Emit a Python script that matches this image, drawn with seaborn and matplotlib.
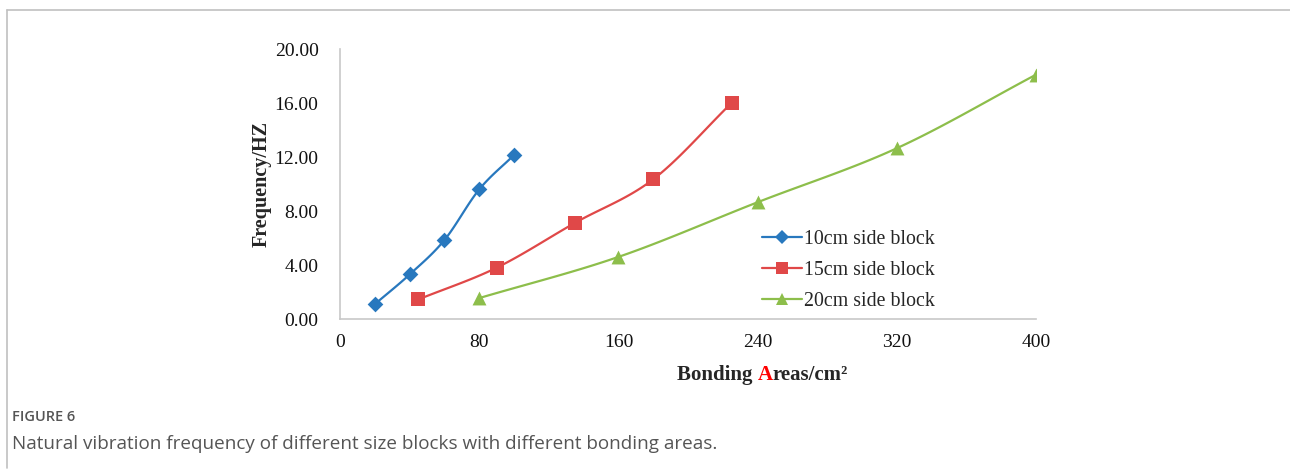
import matplotlib
matplotlib.use("Agg")
import matplotlib.pyplot as plt
from matplotlib.lines import Line2D
import numpy as np
import pandas as pd
import seaborn as sns

# data
area_10 = [20, 40, 60, 80, 100]
freq_10 = [1.10, 3.30, 5.85, 9.60, 12.15]
area_15 = [45, 90, 135, 180, 225]
freq_15 = [1.45, 3.80, 7.12, 10.35, 16.00]
area_20 = [80, 160, 240, 320, 400]
freq_20 = [1.55, 4.60, 8.65, 12.65, 18.10]

series_names = ["10cm side block", "15cm side block", "20cm side block"]
x_ticks = [0, 80, 160, 240, 320, 400]
y_ticks = [0, 4, 8, 12, 16, 20]

colors = ["#2878BE", "#E04848", "#8DBE4B"]
markers = ["D", "s", "^"]
marker_sizes = [8, 10, 10]

SERIF = "Liberation Serif"
SANS = ["Open Sans", "DejaVu Sans"]


def smooth(xs, ys, n=30):
    """Catmull-Rom curve through the points (like Excel's smoothed line)."""
    x = np.asarray(xs, float)
    y = np.asarray(ys, float)
    px = np.concatenate([[2 * x[0] - x[1]], x, [2 * x[-1] - x[-2]]])
    py = np.concatenate([[2 * y[0] - y[1]], y, [2 * y[-1] - y[-2]]])
    out_x, out_y = [], []
    t = np.linspace(0, 1, n)
    for i in range(1, len(px) - 2):
        for p, out in ((px, out_x), (py, out_y)):
            p0, p1, p2, p3 = p[i - 1], p[i], p[i + 1], p[i + 2]
            out.extend(0.5 * ((2 * p1) + (-p0 + p2) * t
                              + (2 * p0 - 5 * p1 + 4 * p2 - p3) * t ** 2
                              + (-p0 + 3 * p1 - 3 * p2 + p3) * t ** 3))
    return np.array(out_x), np.array(out_y)


sns.set_theme(style="white")
plt.rcParams["font.family"] = [SERIF, "DejaVu Serif"]

fig = plt.figure(figsize=(12.9, 4.75), dpi=100)
ax = fig.add_axes([0.2636, 0.3284, 0.5395, 0.5684])

handles = []
for xs, ys, name, c, m, ms in zip(
    [area_10, area_15, area_20], [freq_10, freq_15, freq_20],
    series_names, colors, markers, marker_sizes,
):
    sx, sy = smooth(xs, ys)
    ax.plot(sx, sy, color=c, lw=1.6, zorder=2)
    df = pd.DataFrame({"area": xs, "freq": ys})
    sns.scatterplot(data=df, x="area", y="freq", marker=m, s=ms ** 2,
                    color=c, edgecolor=c, linewidth=0, ax=ax, zorder=3)
    handles.append(Line2D([], [], color=c, lw=1.6, marker=m, markersize=ms * 0.9,
                          markeredgewidth=0, label=name))

ax.set_xlim(0, 400)
ax.set_ylim(0, 20)
ax.set_xticks(x_ticks)
ax.set_yticks(y_ticks)
ax.set_xticklabels([str(v) for v in x_ticks], fontfamily=SERIF, fontsize=14)
ax.set_yticklabels([f"{v:.2f}" for v in y_ticks], fontfamily=SERIF, fontsize=14)
ax.tick_params(axis="both", length=0, colors="#111111")
ax.tick_params(axis="y", pad=15.5)
ax.tick_params(axis="x", pad=11)
ax.set_xlabel("")
ax.set_ylabel("Frequency/HZ", fontsize=14.5, fontweight="bold", labelpad=2,
              fontfamily=SERIF)

for side in ["top", "right"]:
    ax.spines[side].set_visible(False)
for side in ["left", "bottom"]:
    ax.spines[side].set_color("#c8c8c8")
    ax.spines[side].set_linewidth(1.2)

leg = ax.legend(handles=handles, loc="upper left", bbox_to_anchor=(0.592, 0.365),
                frameon=False, prop={"family": SERIF, "size": 14.3},
                handlelength=2.0, handletextpad=0.1,
                labelspacing=0.6, borderpad=0)

# x label with a red "A"
xl_kw = dict(fontsize=15, fontweight="bold", fontfamily=SERIF)
t1 = fig.text(677 / 1290, 0.189, "Bonding ", ha="left", va="bottom", **xl_kw)
t2 = ax.annotate("A", xy=(1, 0), xycoords=t1, color="#ff0000", ha="left",
                 va="bottom", annotation_clip=False, **xl_kw)
ax.annotate("reas/cm\u00b2", xy=(1, 0), xycoords=t2, ha="left", va="bottom",
            annotation_clip=False, **xl_kw)

# caption
fig.text(12 / 1290, 1 - 417 / 475, "FIGURE 6", fontsize=10.5, fontweight="semibold",
         color="#555555", family=SANS, va="center")
fig.text(12 / 1290, 1 - 444 / 475,
         "Natural vibration frequency of different size blocks with different bonding areas.",
         fontsize=13.6, color="#555555", family=SANS, va="center")

# page frame
fig.add_artist(Line2D([7 / 1290, 1], [1 - 10 / 475, 1 - 10 / 475],
                      transform=fig.transFigure, color="#c0c0c0", lw=1.2))
fig.add_artist(Line2D([7 / 1290, 7 / 1290], [1 - 10 / 475, 1 - 468 / 475],
                      transform=fig.transFigure, color="#c0c0c0", lw=1.2))

fig.savefig("out.png", dpi=100)
